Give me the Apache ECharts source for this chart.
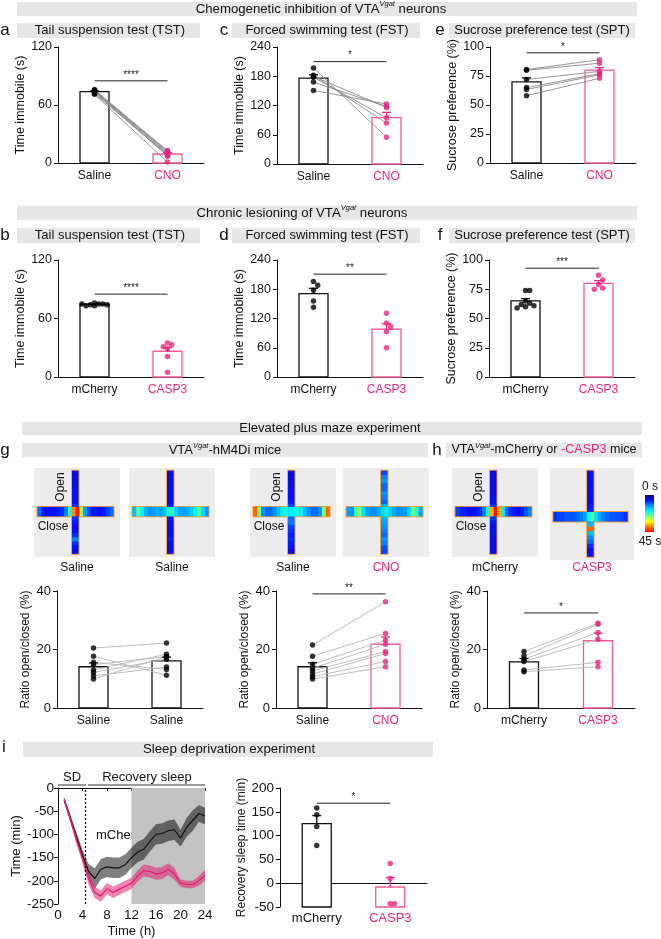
<!DOCTYPE html>
<html lang="en">
<head>
<meta charset="UTF-8">
<script src="https://cdn.jsdelivr.net/npm/echarts@6/dist/echarts.min.js"></script>
<style>
html, body { margin: 0; padding: 0; background: #fff; }
#main { width: 661px; height: 939px; }
</style>
</head>
<body>
<div id="main"></div>
<script>
var FONT = '"Liberation Sans", Arial, sans-serif';
var PINK = '#e8267c';
var PINK_BAR = '#ef5b98';

// ---- a: TST, chemogenetic
var tstChemoSaline = [76, 75, 74, 73, 74, 72, 75, 71];
var tstChemoCno = [12, 11, 10, 9, 13, 8, 7, 1];
var tstChemoMean = [73.8, 9.3];
var tstChemoSem = [0.8, 1.4];
// ---- c: FST, chemogenetic
var fstChemoSaline = [197, 182, 178, 168, 151, 180];
var fstChemoCno = [55, 84, 95, 118, 123, 116];
var fstChemoMean = [176, 95];
var fstChemoSem = [7, 11];
// ---- e: SPT, chemogenetic
var sptChemoSaline = [80.6, 80, 72, 65, 63.4, 58];
var sptChemoCno = [89, 86, 79, 77, 76, 73];
var sptChemoMean = [70, 80];
var sptChemoSem = [3.4, 2.2];
// ---- b: TST, lesion
var tstLesCherry = [76, 75, 74, 75, 73, 74, 75, 73];
var tstLesCasp = [35, 33, 31, 29, 21, 5];
var tstLesMean = [74.6, 26.4];
var tstLesSem = [0.5, 3.6];
// ---- d: FST, lesion
var fstLesCherry = [196, 188, 178, 156, 143];
var fstLesCasp = [131, 111, 103, 93, 60];
var fstLesMean = [171, 98];
var fstLesSem = [11, 11];
// ---- f: SPT, lesion
var sptLesCherry = [74, 74, 65, 63, 62, 61, 60, 59];
var sptLesCasp = [87, 83, 79, 76, 75];
var sptLesMean = [65, 80];
var sptLesSem = [2, 2.4];
// ---- g: EPM saline / saline
var epmSal1 = [20.5, 17.7, 15.6, 14.8, 13, 12.2, 9.9, 11];
var epmSal2 = [22.2, 11.2, 13.2, 17.6, 18.4, 16.7, 17.5, 14];
var epmSalMean = [14.1, 16.1];
var epmSalSem = [1.3, 1.3];
// ---- g: EPM saline / CNO
var epmCnoSaline = [21.5, 17.7, 15, 13.6, 12.7, 11.6, 10.7, 9.9];
var epmCnoCno = [36.3, 25.5, 23.2, 21.8, 19.3, 18.6, 15.9, 14.1];
var epmCnoMean = [14.1, 21.8];
var epmCnoSem = [1.4, 2.5];
// ---- h: EPM mCherry / CASP3
var epmLesCherry = [19.3, 17.8, 16.7, 15.9, 13, 12.4];
var epmLesCasp = [29, 28.6, 25.8, 23.5, 15.6, 14.1];
var epmLesMean = [15.8, 23];
var epmLesSem = [1.1, 2.6];
// ---- i: recovery sleep
var sleepHours = [1, 2, 3, 4, 5, 6, 7, 8, 9, 10, 11, 12, 13, 14, 15, 16, 17, 18, 19, 20, 21, 22, 23, 24];
var sleepCherryMean = [-25, -65, -105, -145, -180, -195, -175, -170, -172, -172, -165, -150, -138, -132, -115, -100, -98, -92, -90, -108, -85, -70, -55, -60];
var sleepCherrySem = [5, 8, 10, 12, 16, 22, 22, 22, 22, 22, 22, 22, 22, 22, 22, 22, 22, 22, 22, 18, 20, 22, 18, 18];
var sleepCaspMean = [-25, -65, -110, -150, -195, -225, -233, -217, -225, -218, -212, -205, -190, -178, -180, -185, -183, -175, -185, -205, -208, -208, -200, -188];
var sleepCaspSem = [5, 8, 10, 12, 14, 12, 12, 12, 12, 12, 12, 12, 12, 13, 13, 13, 13, 13, 13, 8, 8, 8, 10, 12];
var recovCherry = [158, 144, 119, 79];
var recovCasp = [41.5, 10, -43, -43];
var recovMean = [125, -8];
var recovSem = [17, 20];

// ---- EPM heat maps: time (s) along open arm (top->bottom) and closed arm (left->right)
var maze1Open = [5, 5, 5, 5, 6, 6, 6, 6, 8, 11, 11, 8, 7, 6, 6, 8, 12, 8, 6, 5];
var maze1Closed = [11, 7, 6, 6, 6, 7, 8, 12, 22, 38, 44, 28, 14, 9, 7, 6, 6, 7, 9, 11];
var maze2Open = [5, 5, 5, 5, 6, 6, 6, 6, 7, 9, 9, 7, 6, 6, 6, 6, 7, 6, 5, 5];
var maze2Closed = [16, 24, 20, 15, 13, 14, 15, 14, 17, 22, 22, 17, 14, 14, 15, 17, 20, 24, 18, 13];
var maze3Open = [5, 5, 5, 5, 6, 6, 6, 7, 9, 13, 13, 11, 12, 9, 8, 7, 8, 7, 6, 5];
var maze3Closed = [40, 26, 13, 11, 11, 13, 16, 19, 21, 19, 19, 21, 19, 16, 13, 11, 11, 13, 26, 40];
var maze4Open = [9, 12, 13, 11, 11, 13, 12, 11, 15, 18, 18, 15, 14, 13, 12, 11, 13, 12, 10, 9];
var maze4Closed = [14, 13, 23, 26, 18, 14, 13, 13, 15, 18, 20, 17, 15, 13, 13, 14, 18, 26, 21, 14];
var maze5Open = [5, 5, 5, 5, 5, 5, 6, 6, 8, 11, 11, 8, 7, 6, 6, 5, 5, 5, 5, 5];
var maze5Closed = [9, 7, 7, 6, 6, 7, 8, 12, 21, 36, 44, 36, 19, 11, 8, 7, 6, 7, 10, 12];
var maze6Open = [6, 6, 6, 6, 6, 6, 6, 6, 7, 8, 10, 13, 16, 40, 16, 13, 11, 8, 6, 6];
var maze6Closed = [8, 9, 9, 10, 10, 10, 11, 12, 14, 20, 24, 18, 14, 12, 11, 10, 10, 10, 9, 8];
var mazeLabels = ['Saline', 'Saline', 'Saline', 'CNO', 'mCherry', 'CASP3'];

var JET = ['#1c0a70', '#0010ff', '#0090ff', '#00f0ff', '#70ff80', '#ffff00', '#ff8000', '#ff0000'];

var grids = [], xAxes = [], yAxes = [], series = [], graphics = [];

function addGrid(box, extra) {
  var g = { left: box[0], top: box[1], width: box[2], height: box[3], containLabel: false };
  if (extra) for (var k in extra) g[k] = extra[k];
  grids.push(g);
  return grids.length - 1;
}

function swarm(vals, range, hPx, step) {
  var thr = 5 * range / hPx;
  var placed = [];
  var steps = [0, step, -step, 2 * step, -2 * step, 3 * step, -3 * step, 4 * step];
  return vals.map(function (v) {
    for (var k = 0; k < steps.length; k++) {
      var dx = steps[k];
      var hit = placed.some(function (q) { return Math.abs(q.v - v) < thr && Math.abs(q.dx - dx) < step; });
      if (!hit) { placed.push({ v: v, dx: dx }); return dx; }
    }
    placed.push({ v: v, dx: 0 });
    return 0;
  });
}

function barPanel(p) {
  var gi = addGrid(p.box);
  var fs = p.fs || 12.5;
  var min = p.min || 0;
  xAxes.push({
    gridIndex: gi, type: 'category', data: p.cats, boundaryGap: true,
    axisLine: { lineStyle: { color: '#111', width: 1 } },
    axisTick: { show: false },
    axisLabel: {
      fontFamily: FONT, fontSize: p.catSize || 12, margin: p.labelMargin || 7,
      color: function (v, i) { return p.colors[i] === '#000' ? '#111' : PINK; }
    }
  });
  yAxes.push({
    gridIndex: gi, type: 'value', min: min, max: p.max, interval: p.interval,
    name: p.name, nameLocation: 'middle', nameGap: p.nameGap, nameRotate: 90,
    nameTextStyle: { fontFamily: FONT, fontSize: p.nameSize || 12.5, color: '#111' },
    axisLine: { show: true, lineStyle: { color: '#111', width: 1 } },
    axisTick: { show: true, length: 4, lineStyle: { color: '#111' } },
    splitLine: { show: false },
    axisLabel: { fontFamily: FONT, fontSize: fs, color: '#111', margin: 6 }
  });
  var xi = xAxes.length - 1, yi = yAxes.length - 1;
  var colors = p.colors;
  // bars (drawn from the axis minimum)
  series.push({
    type: 'custom', xAxisIndex: xi, yAxisIndex: yi, z: 1, silent: true,
    data: p.mean.map(function (m, i) { return [i, m]; }),
    renderItem: function (params, api) {
      var i = api.value(0);
      var top = api.coord([i, api.value(1)]);
      var bot = api.coord([i, min]);
      return {
        type: 'rect',
        shape: { x: top[0] - 14.5, y: top[1], width: 29, height: bot[1] - top[1] },
        style: { fill: '#fff', stroke: colors[i] === '#000' ? '#111' : PINK_BAR, lineWidth: 1.3 }
      };
    }
  });
  // paired lines
  if (p.paired) {
    series.push({
      type: 'custom', xAxisIndex: xi, yAxisIndex: yi, z: 2, silent: true,
      data: p.A.map(function (v, k) { return [k, v, p.B[k]]; }),
      renderItem: function (params, api) {
        var s = api.coord([0, api.value(1)]);
        var e = api.coord([1, api.value(2)]);
        return {
          type: 'line', shape: { x1: s[0], y1: s[1], x2: e[0], y2: e[1] },
          style: { stroke: p.pairColor || '#8a8a8a', lineWidth: 0.9 }
        };
      }
    });
  }
  // error bars (mean + SEM)
  series.push({
    type: 'custom', xAxisIndex: xi, yAxisIndex: yi, z: 3, silent: true,
    data: p.mean.map(function (m, i) { return [i, m, p.sem[i]]; }),
    renderItem: function (params, api) {
      var i = api.value(0);
      var a = api.coord([i, api.value(1)]);
      var b = api.coord([i, api.value(1) + api.value(2)]);
      var c = colors[i] === '#000' ? '#111' : PINK;
      return {
        type: 'group', children: [
          { type: 'line', shape: { x1: a[0], y1: a[1], x2: b[0], y2: b[1] }, style: { stroke: c, lineWidth: 1.3 } },
          { type: 'line', shape: { x1: b[0] - 4.5, y1: b[1], x2: b[0] + 4.5, y2: b[1] }, style: { stroke: c, lineWidth: 1.3 } }
        ]
      };
    }
  });
  // points
  var range = p.max - min;
  [p.A, p.B].forEach(function (vals, i) {
    var offs = p.paired ? vals.map(function () { return 0; }) : swarm(vals, range, p.box[3], 4.2);
    series.push({
      type: 'scatter', xAxisIndex: xi, yAxisIndex: yi, z: 4, silent: true,
      symbolSize: p.dot || 5.5,
      itemStyle: { color: colors[i] === '#000' ? '#000' : PINK },
      data: vals.map(function (v, k) { return { value: [i, v], symbolOffset: [offs[k], 0] }; })
    });
  });
  // significance bar
  if (p.sig) {
    series.push({
      type: 'custom', xAxisIndex: xi, yAxisIndex: yi, z: 5, silent: true,
      data: [[p.sig[0]]],
      renderItem: function (params, api) {
        var s = api.coord([0, api.value(0)]);
        var e = api.coord([1, api.value(0)]);
        return {
          type: 'group', children: [
            { type: 'line', shape: { x1: s[0], y1: s[1], x2: e[0], y2: e[1] }, style: { stroke: '#222', lineWidth: 1 } },
            { type: 'text', x: (s[0] + e[0]) / 2, y: s[1] - 1, style: { text: p.sig[1], fontSize: 10, fontFamily: FONT, fill: '#222', align: 'center', verticalAlign: 'bottom' } }
          ]
        };
      }
    });
  }
}

var BW = ['#000', PINK];
barPanel({ box: [58, 47, 146, 116], cats: ['Saline', 'CNO'], colors: BW, A: tstChemoSaline, B: tstChemoCno, mean: tstChemoMean, sem: tstChemoSem, paired: true, max: 120, interval: 60, name: 'Time immobile (s)', nameGap: 31, sig: [85, '****'] });
barPanel({ box: [277, 47, 146, 117], cats: ['Saline', 'CNO'], colors: BW, A: fstChemoSaline, B: fstChemoCno, mean: fstChemoMean, sem: fstChemoSem, paired: true, max: 240, interval: 60, name: 'Time immobile (s)', nameGap: 31, sig: [210, '*'] });
barPanel({ box: [490, 47, 146, 116], cats: ['Saline', 'CNO'], colors: BW, A: sptChemoSaline, B: sptChemoCno, mean: sptChemoMean, sem: sptChemoSem, paired: true, max: 100, interval: 25, name: 'Sucrose preference (%)', nameGap: 31, sig: [95, '*'] });
barPanel({ box: [58, 260, 146, 117], cats: ['mCherry', 'CASP3'], colors: BW, A: tstLesCherry, B: tstLesCasp, mean: tstLesMean, sem: tstLesSem, paired: false, max: 120, interval: 60, name: 'Time immobile (s)', nameGap: 31, sig: [85, '****'] });
barPanel({ box: [277, 260, 146, 117], cats: ['mCherry', 'CASP3'], colors: BW, A: fstLesCherry, B: fstLesCasp, mean: fstLesMean, sem: fstLesSem, paired: false, max: 240, interval: 60, name: 'Time immobile (s)', nameGap: 31, sig: [211, '**'] });
barPanel({ box: [489, 260, 146, 117], cats: ['mCherry', 'CASP3'], colors: BW, A: sptLesCherry, B: sptLesCasp, mean: sptLesMean, sem: sptLesSem, paired: false, max: 100, interval: 25, name: 'Sucrose preference (%)', nameGap: 31, sig: [93, '***'] });
barPanel({ box: [57, 591, 146, 117], cats: ['Saline', 'Saline'], colors: ['#000', '#000'], A: epmSal1, B: epmSal2, mean: epmSalMean, sem: epmSalSem, paired: true, pairColor: '#b5b5b5', max: 40, interval: 20, name: 'Ratio open/closed (%)', nameGap: 25, fs: 13, nameSize: 12 });
barPanel({ box: [276, 591, 146, 117], cats: ['Saline', 'CNO'], colors: BW, A: epmCnoSaline, B: epmCnoCno, mean: epmCnoMean, sem: epmCnoSem, paired: true, pairColor: '#b5b5b5', max: 40, interval: 20, name: 'Ratio open/closed (%)', nameGap: 25, fs: 13, nameSize: 12, sig: [39, '**'] });
barPanel({ box: [487, 591, 148, 117], cats: ['mCherry', 'CASP3'], colors: BW, A: epmLesCherry, B: epmLesCasp, mean: epmLesMean, sem: epmLesSem, paired: true, pairColor: '#b5b5b5', max: 40, interval: 20, name: 'Ratio open/closed (%)', nameGap: 25, fs: 13, nameSize: 12, sig: [32.5, '*'] });
barPanel({ box: [280, 788, 147, 119], cats: ['mCherry', 'CASP3'], colors: BW, A: recovCherry, B: recovCasp, mean: recovMean, sem: recovSem, paired: false, min: -50, max: 200, interval: 50, name: 'Recovery sleep time (min)', nameGap: 31, nameSize: 12, fs: 13.5, catSize: 13, labelMargin: 5, sig: [168, '*'] });

// ---- i: time course of sleep
(function () {
  var gi = addGrid([58, 788, 147, 119]);
  xAxes.push({
    gridIndex: gi, type: 'value', min: 0, max: 24, interval: 4,
    name: 'Time (h)', nameLocation: 'middle', nameGap: 21,
    nameTextStyle: { fontFamily: FONT, fontSize: 13, color: '#111' },
    axisLine: { lineStyle: { color: '#111' } },
    axisTick: { show: true, length: 3, lineStyle: { color: '#111' } },
    splitLine: { show: false },
    axisLabel: { fontFamily: FONT, fontSize: 13.5, color: '#111', margin: 4 }
  });
  yAxes.push({
    gridIndex: gi, type: 'value', min: -250, max: 0, interval: 50,
    name: 'Time (min)', nameLocation: 'middle', nameGap: 32, nameRotate: 90,
    nameTextStyle: { fontFamily: FONT, fontSize: 13, color: '#111' },
    axisLine: { show: true, lineStyle: { color: '#111' } },
    axisTick: { show: true, length: 4, lineStyle: { color: '#111' } },
    splitLine: { show: false },
    axisLabel: { fontFamily: FONT, fontSize: 13.5, color: '#111', margin: 4 }
  });
  var xi = xAxes.length - 1, yi = yAxes.length - 1;
  function pts(arr) { return sleepHours.map(function (h, k) { return [h, arr[k]]; }); }
  series.push({
    type: 'line', xAxisIndex: xi, yAxisIndex: yi, symbol: 'none', silent: true,
    data: pts(sleepCherryMean), lineStyle: { opacity: 0 }, z: 1,
    markArea: { silent: true, itemStyle: { color: '#c2c2c2' }, data: [[{ xAxis: 12 }, { xAxis: 24 }]] }
  });
  // SEM bands as polygons
  [[sleepCherryMean, sleepCherrySem, 'rgba(0,0,0,0.5)'], [sleepCaspMean, sleepCaspSem, 'rgba(226,30,112,0.55)']].forEach(function (g) {
    series.push({
      type: 'custom', xAxisIndex: xi, yAxisIndex: yi, z: 2, silent: true,
      data: [[0]],
      renderItem: function (params, api) {
        var up = [], lo = [];
        sleepHours.forEach(function (h, k) {
          up.push(api.coord([h, g[0][k] + g[1][k]]));
          lo.push(api.coord([h, g[0][k] - g[1][k]]));
        });
        return { type: 'polygon', shape: { points: up.concat(lo.reverse()) }, style: { fill: g[2] } };
      }
    });
  });
  series.push({ type: 'line', xAxisIndex: xi, yAxisIndex: yi, symbol: 'none', silent: true, data: pts(sleepCherryMean), lineStyle: { color: '#111', width: 1.2 }, z: 4 });
  series.push({
    type: 'line', xAxisIndex: xi, yAxisIndex: yi, symbol: 'none', silent: true,
    data: pts(sleepCaspMean), lineStyle: { color: '#e0206e', width: 1.2 }, z: 4,
    markLine: { silent: true, symbol: ['none', 'none'], label: { show: false }, lineStyle: { color: '#111', type: [2, 2], width: 1.3 }, data: [{ xAxis: 4.5 }] }
  });
})();

// ---- EPM heat maps
var mazeBoxes = [[34, 468, 86, 89], [129, 468, 86, 89], [250, 468, 86, 89], [343, 468, 86, 89], [452, 468, 86, 89], [550, 468, 84, 92]];
var mazeCenterY = [0.49, 0.49, 0.49, 0.49, 0.49, 0.53];
var mazeData = [[maze1Open, maze1Closed], [maze2Open, maze2Closed], [maze3Open, maze3Closed], [maze4Open, maze4Closed], [maze5Open, maze5Closed], [maze6Open, maze6Closed]];
var heatSeries = [];
mazeData.forEach(function (md, m) {
  var gi = addGrid(mazeBoxes[m], { show: true, backgroundColor: '#ececec', borderWidth: 0 });
  xAxes.push({ gridIndex: gi, type: 'value', min: 0, max: 1, show: false });
  yAxes.push({ gridIndex: gi, type: 'value', min: 0, max: 1, inverse: true, show: false });
  var xi = xAxes.length - 1, yi = yAxes.length - 1;
  var cx = 0.48, cy = mazeCenterY[m];
  var v0 = 0.03, v1 = 0.965, h0 = 0.04, h1 = 0.925;
  var vw = 6.5, hw = 9.5;
  function armRect(api, type, a, b) {
    if (type === 0) {
      var p = api.coord([cx, a]), q = api.coord([cx, b]);
      return { x: p[0] - vw / 2, y: p[1], width: vw, height: q[1] - p[1] };
    }
    var r = api.coord([a, cy]), t = api.coord([b, cy]);
    return { x: r[0], y: r[1] - hw / 2, width: t[0] - r[0], height: hw };
  }
  // arm outlines
  series.push({
    type: 'custom', xAxisIndex: xi, yAxisIndex: yi, z: 1, silent: true,
    data: [[0], [1]],
    renderItem: function (params, api) {
      var t = api.value(0);
      var sh = t === 0 ? armRect(api, 0, v0, v1) : armRect(api, 1, h0, h1);
      return { type: 'rect', shape: { x: sh.x - 0.9, y: sh.y - 0.9, width: sh.width + 1.8, height: sh.height + 1.8 }, style: { fill: '#f39a2e' } };
    }
  });
  var items = [];
  md[0].forEach(function (v, k) { items.push([0, k, v, md[0].length]); });
  md[1].forEach(function (v, k) { items.push([1, k, v, md[1].length]); });
  series.push({
    type: 'custom', xAxisIndex: xi, yAxisIndex: yi, z: 2, silent: true,
    data: items,
    renderItem: function (params, api) {
      var t = api.value(0), k = api.value(1), n = api.value(3);
      var lo = t === 0 ? v0 : h0, hi = t === 0 ? v1 : h1;
      var a = lo + (hi - lo) * k / n, b = lo + (hi - lo) * (k + 1) / n;
      var sh = armRect(api, t, a, b);
      if (k < n - 1) { if (t === 0) { sh.height += 0.6; } else { sh.width += 0.6; } }
      return { type: 'rect', shape: sh, style: { fill: api.visual('color') } };
    }
  });
  heatSeries.push(series.length - 1);
});

// ---- annotations
function rect(x, y, w, h, fill) { return { type: 'rect', shape: { x: x, y: y, width: w, height: h }, style: { fill: fill }, silent: true, z: 0 }; }
function txt(x, y, s, o) {
  var st = { text: s, x: x, y: y, fontFamily: FONT, fontSize: 12, fill: '#111', align: 'center', verticalAlign: 'middle' };
  if (o) for (var k in o) st[k] = o[k];
  return { type: 'text', style: st, silent: true, z: 10 };
}
function supText(x, y, parts, size) {
  var rich = {
    n: { fontFamily: FONT, fontSize: size, fill: '#111', lineHeight: size + 4 },
    p: { fontFamily: FONT, fontSize: size, fill: PINK, lineHeight: size + 4 },
    s: { fontFamily: FONT, fontSize: 7.5, fontStyle: 'italic', fill: '#111', verticalAlign: 'top', lineHeight: size + 4 }
  };
  return { type: 'text', style: { text: parts, x: x, y: y, rich: rich, align: 'center', verticalAlign: 'middle' }, silent: true, z: 10 };
}
var BANNER = '#e6e6e6';
graphics.push(rect(17, 2, 620, 14, BANNER));
graphics.push(supText(321, 9, '{n|Chemogenetic inhibition of VTA}{s|Vgat}{n| neurons}', 13.2));
graphics.push(rect(17, 206, 620, 14, BANNER));
graphics.push(supText(302, 213, '{n|Chronic lesioning of VTA}{s|Vgat}{n| neurons}', 13.2));
[[23, 'a', 'c', 'e'], [228, 'b', 'd', 'f']].forEach(function (row) {
  var y = row[0];
  graphics.push(rect(17, y, 183, 15, BANNER));
  graphics.push(rect(232, y, 188, 15, BANNER));
  graphics.push(rect(449, y, 186, 15, BANNER));
  graphics.push(txt(110, y + 7.5, 'Tail suspension test (TST)', { fontSize: 13 }));
  graphics.push(txt(327, y + 7.5, 'Forced swimming test (FST)', { fontSize: 13 }));
  graphics.push(txt(542, y + 7.5, 'Sucrose preference test (SPT)', { fontSize: 13 }));
  graphics.push(txt(5, y + 7, row[1], { fontSize: 17 }));
  graphics.push(txt(224, y + 7, row[2], { fontSize: 17 }));
  graphics.push(txt(440, y + 7, row[3], { fontSize: 17 }));
});
graphics.push(rect(22, 422, 620, 13, BANNER));
graphics.push(txt(330, 428.5, 'Elevated plus maze experiment', { fontSize: 13 }));
graphics.push(txt(5, 450, 'g', { fontSize: 17 }));
graphics.push(rect(22, 443, 406, 14, BANNER));
graphics.push(supText(225, 450, '{n|VTA}{s|Vgat}{n|-hM4Di mice}', 13));
graphics.push(txt(437, 450, 'h', { fontSize: 17 }));
graphics.push(rect(446, 443, 196, 14, BANNER));
graphics.push(supText(544, 450, '{n|VTA}{s|Vgat}{n|-mCherry or }{p|-CASP3}{n| mice}', 12.6));
mazeBoxes.forEach(function (b, m) {
  graphics.push(txt(b[0] + b[2] / 2, 568, mazeLabels[m], { fill: (m === 3 || m === 5) ? PINK : '#111' }));
});
[0, 2, 4].forEach(function (m) {
  var b = mazeBoxes[m];
  graphics.push({ type: 'text', x: b[0] + 27, y: 487, rotation: Math.PI / 2, style: { text: 'Open', fontFamily: FONT, fontSize: 12, fill: '#111', align: 'center', verticalAlign: 'middle' }, silent: true, z: 10 });
  graphics.push(txt(b[0] + 19, 527, 'Close'));
});
graphics.push({
  type: 'rect', shape: { x: 645, y: 495, width: 9, height: 37 }, silent: true, z: 10,
  style: { fill: { type: 'linear', x: 0, y: 0, x2: 0, y2: 1, colorStops: JET.map(function (c, k) { return { offset: k / (JET.length - 1), color: c }; }) } }
});
graphics.push(txt(650, 487, '0 s'));
graphics.push(txt(650, 542, '45 s'));
// i
graphics.push(txt(4, 747, 'i', { fontSize: 17 }));
graphics.push(rect(23, 742, 410, 15, BANNER));
graphics.push(txt(229, 749.5, 'Sleep deprivation experiment', { fontSize: 13.3 }));
graphics.push({ type: 'line', shape: { x1: 58, y1: 785, x2: 86, y2: 785 }, style: { stroke: '#777', lineWidth: 1.5 }, silent: true, z: 10 });
graphics.push({ type: 'line', shape: { x1: 88, y1: 785, x2: 205, y2: 785 }, style: { stroke: '#777', lineWidth: 1.5 }, silent: true, z: 10 });
graphics.push(txt(72, 777, 'SD', { fontSize: 13 }));
graphics.push(txt(147, 777, 'Recovery sleep', { fontSize: 13 }));
graphics.push({ type: 'text', style: { text: 'mCherry', x: 96, y: 835, fontFamily: FONT, fontSize: 13, fill: '#111', verticalAlign: 'middle' }, silent: true, z: 0 });

var chart = echarts.init(document.getElementById('main'), null, { renderer: 'canvas' });
chart.setOption({
  animation: false,
  backgroundColor: '#fff',
  textStyle: { fontFamily: FONT },
  grid: grids,
  xAxis: xAxes,
  yAxis: yAxes,
  visualMap: [{ type: 'continuous', show: false, min: 0, max: 45, dimension: 2, seriesIndex: heatSeries, inRange: { color: JET } }],
  series: series,
  graphic: { elements: graphics }
});
</script>
</body>
</html>
